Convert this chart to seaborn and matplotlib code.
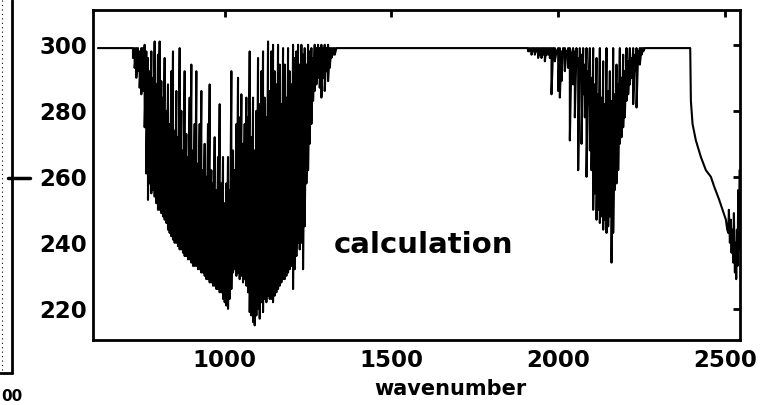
import numpy as np
import pandas as pd
import matplotlib
matplotlib.use("Agg")
import matplotlib.pyplot as plt
from matplotlib.lines import Line2D
import seaborn as sns

# Valeurs (brightness temperature vs wavenumber)
# plateau de gauche
flat_wn = [620, 723]
flat_val = [299, 299]

# bande 1 (~725-1335 cm-1) : sommet / creux de chaque raie
band1_wn = np.arange(725, 1340, 5)
band1_hi = [299, 299, 299, 299, 298, 299, 299, 300, 298, 296,
            292, 298, 290, 301, 288, 297, 301, 289, 284, 296,
            280, 288, 276, 292, 298, 274, 286, 272, 299, 280,
            268, 292, 273, 266, 284, 294, 268, 276, 292, 264,
            276, 286, 262, 270, 260, 276, 288, 262, 258, 272,
            256, 266, 282, 258, 266, 252, 258, 266, 256, 292,
            268, 262, 276, 290, 278, 285, 270, 276, 284, 278,
            298, 272, 284, 268, 280, 296, 282, 292, 298, 284,
            278, 301, 286, 298, 300, 292, 288, 300, 294, 282,
            299, 294, 284, 299, 292, 288, 300, 296, 298, 300,
            294, 300, 297, 299, 294, 300, 298, 299, 296, 300,
            299, 300, 299, 300, 299, 300, 299, 300, 299, 299,
            299, 299, 299]
band1_lo = [296, 293, 290, 292, 287, 285, 286, 275, 261, 253,
            258, 255, 256, 254, 252, 250, 250, 249, 248, 247,
            246, 244, 243, 242, 241, 240, 240, 239, 238, 238,
            237, 236, 236, 235, 235, 234, 233, 233, 233, 232,
            232, 231, 231, 230, 229, 229, 228, 228, 227, 227,
            226, 226, 225, 225, 223, 222, 221, 220, 223, 226,
            231, 232, 230, 231, 229, 230, 228, 229, 227, 225,
            219, 218, 216, 215, 218, 220, 217, 222, 219, 223,
            222, 224, 223, 223, 222, 224, 225, 226, 227, 228,
            229, 229, 230, 231, 232, 233, 226, 232, 236, 240,
            238, 240, 232, 245, 258, 262, 270, 276, 283, 286,
            288, 290, 287, 284, 290, 286, 292, 289, 293, 296,
            297, 297, 299]

# bande 2 (~1910-2260 cm-1)
band2_wn = np.arange(1910, 2265, 5)
band2_hi = [299, 299, 299, 299, 299, 299, 299, 299, 299, 299,
            299, 299, 299, 299, 299, 299, 299, 298, 299, 299,
            298, 299, 299, 298, 299, 299, 297, 299, 298, 299,
            296, 299, 297, 299, 294, 299, 292, 299, 290, 299,
            288, 296, 285, 299, 284, 295, 282, 299, 286, 292,
            283, 299, 285, 294, 288, 299, 290, 297, 292, 299,
            295, 299, 296, 299, 297, 299, 298, 299, 299, 299,
            299]
band2_lo = [298, 298, 297, 298, 297, 298, 296, 297, 296, 297,
            295, 297, 297, 296, 285, 297, 295, 298, 286, 284,
            289, 297, 292, 297, 293, 271, 297, 288, 278, 296,
            262, 290, 270, 285, 278, 260, 282, 268, 262, 250,
            255, 247, 250, 246, 248, 244, 247, 243, 245, 248,
            234, 243, 256, 258, 262, 270, 272, 275, 278, 283,
            285, 288, 290, 282, 292, 281, 295, 294, 297, 298,
            299]

# plateau puis chute vers 2400-2545 cm-1
tail_wn = [2265, 2396, 2398, 2403, 2413, 2428, 2443, 2458, 2468, 2483,
           2493, 2503, 2507, 2510, 2512, 2515, 2518, 2520, 2522, 2525,
           2527, 2530, 2532, 2534, 2536, 2538, 2540, 2542, 2544]
tail_val = [299, 299, 283, 276, 271, 266, 262, 260, 257, 253,
            250, 247, 244, 243, 250, 240, 247, 237, 244, 234,
            249, 231, 240, 229, 244, 233, 256, 238, 262]

x_ticks = [1000, 1500, 2000, 2500]
y_ticks = [220, 240, 260, 280, 300]


def raies(wn, hi, lo):
    # chaque raie : sommet puis creux au meme nombre d'onde
    n = min(len(wn), len(hi), len(lo))
    x = np.repeat(np.asarray(wn[:n]), 2)
    y = np.column_stack([hi[:n], lo[:n]]).ravel()
    return list(x), list(y)


b1x, b1y = raies(band1_wn, band1_hi, band1_lo)
b2x, b2y = raies(band2_wn, band2_hi, band2_lo)
wn_all = flat_wn + b1x + [1340, 1905] + b2x + tail_wn
val_all = flat_val + b1y + [299, 299] + b2y + tail_val
df = pd.DataFrame({"wavenumber": wn_all, "T": val_all})

sns.set_theme(style="white")
plt.rcParams["font.family"] = ["DejaVu Sans"]
plt.rcParams["font.weight"] = "bold"
plt.rcParams["text.color"] = "black"
plt.rcParams["axes.labelcolor"] = "black"

fig = plt.figure(figsize=(7.62, 4.05), dpi=100)
ax = fig.add_axes([0.122, 0.160, 0.849, 0.815])

sns.lineplot(data=df, x="wavenumber", y="T", ax=ax, color="black",
             linewidth=1.5, estimator=None, sort=False)

ax.set_xlim(605, 2545)
ax.set_ylim(210.5, 310.5)
ax.set_xticks(x_ticks)
ax.set_yticks(y_ticks)
ax.tick_params(direction="in", length=5, width=2, top=True, right=True,
               labelsize=16.5, colors="black")
ax.tick_params(axis="x", pad=6)
ax.tick_params(axis="y", pad=4)
for lab in ax.get_xticklabels() + ax.get_yticklabels():
    lab.set_fontweight("bold")
for sp in ax.spines.values():
    sp.set_color("black")
    sp.set_linewidth(2)

ax.set_ylabel("")
ax.set_xlabel("wavenumber", fontsize=15, fontweight="bold", color="black")
ax.xaxis.set_label_coords(0.552, -0.118)

ax.text(1327, 237, "calculation", fontsize=21, fontweight="bold",
        ha="left", va="baseline", color="black")

# bord du panneau voisin (coupe du scan)
fig.add_artist(Line2D([12 / 762, 12 / 762], [1.0, 1 - 373 / 405],
                      transform=fig.transFigure, color="black", lw=2))
fig.add_artist(Line2D([0, 12 / 762], [1 - 373 / 405, 1 - 373 / 405],
                      transform=fig.transFigure, color="black", lw=2))
fig.add_artist(Line2D([8 / 762, 30 / 762], [1 - 178 / 405, 1 - 178 / 405],
                      transform=fig.transFigure, color="black", lw=2.5))
fig.add_artist(Line2D([2 / 762, 2 / 762], [1.0, 1 - 370 / 405],
                      transform=fig.transFigure, color="black", lw=0.8,
                      linestyle=(0, (1, 3))))
fig.text(0.001, 0.002, "00", fontsize=11, fontweight="bold", va="bottom",
         color="black")

fig.savefig("out.png", dpi=100)
